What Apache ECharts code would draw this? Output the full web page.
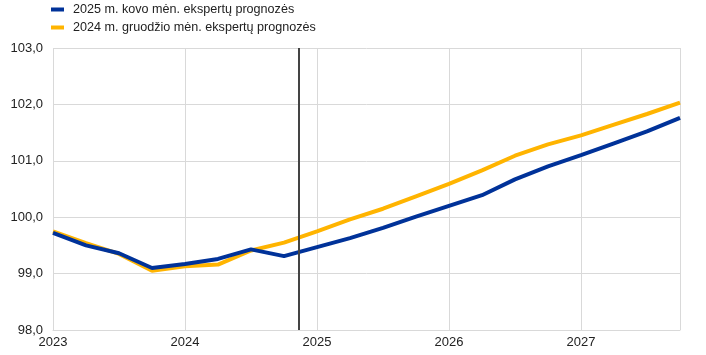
<!DOCTYPE html>
<html><head><meta charset="utf-8">
<script src="https://cdn.jsdelivr.net/npm/echarts@6/dist/echarts.min.js"></script>
<style>html,body{margin:0;padding:0;background:#fff}#c{width:706px;height:355px}</style>
</head><body><div id="c"></div>
<script>
const quarters = [2023,2023.25,2023.5,2023.75,2024,2024.25,2024.5,2024.75,2025,2025.25,2025.5,2025.75,2026,2026.25,2026.5,2026.75,2027,2027.25,2027.5,2027.75];
const march2025 = [99.72,99.50,99.36,99.10,99.17,99.26,99.43,99.31,99.47,99.63,99.81,100.01,100.20,100.39,100.67,100.90,101.10,101.31,101.52,101.76];
const dec2024 = [99.75,99.54,99.35,99.05,99.13,99.16,99.41,99.55,99.75,99.96,100.15,100.37,100.59,100.83,101.09,101.29,101.45,101.64,101.83,102.03];
const seriesNames = ['2025 m. kovo mėn. ekspertų prognozės','2024 m. gruodžio mėn. ekspertų prognozės'];
const projectionStart = 2024.86;
const yTicks = [98,99,100,101,102,103];

const pair = arr => arr.map((v,i)=>[quarters[i], v]);
const chart = echarts.init(document.getElementById('c'));
chart.setOption({
  animation:false,
  textStyle:{fontFamily:'Liberation Sans, Arial, sans-serif'},
  legend:{
    data:seriesNames, orient:'vertical', left:51, top:3, padding:0, itemGap:5,
    itemWidth:13, itemHeight:4, icon:'rect',
    textStyle:{fontSize:12.6, color:'#222', padding:[0,0,0,4]}
  },
  grid:{left:53, right:26, top:48, bottom:25, containLabel:false},
  xAxis:{
    type:'value', min:2023, max:2027.75, interval:1,
    axisLine:{show:true, lineStyle:{color:'#d9d9d9'}},
    axisTick:{show:false},
    splitLine:{show:true, lineStyle:{color:'#d9d9d9', width:1}},
    axisLabel:{color:'#222', fontSize:13, margin:6, formatter:v => (Math.abs(v-Math.round(v))<1e-9 ? String(Math.round(v)) : '')}
  },
  yAxis:{
    type:'value', min:yTicks[0], max:yTicks[yTicks.length-1], interval:1,
    axisLine:{show:false}, axisTick:{show:false},
    splitLine:{show:true, lineStyle:{color:'#d9d9d9', width:1}},
    axisLabel:{color:'#222', fontSize:13, margin:10, formatter:v => v.toFixed(1).replace('.', ',')}
  },
  series:[
    {name:seriesNames[1], type:'line', data:pair(dec2024), showSymbol:false, symbol:'none',
     lineStyle:{color:'#ffb400', width:4}, itemStyle:{color:'#ffb400'}, z:2},
    {name:seriesNames[0], type:'line', data:pair(march2025), showSymbol:false, symbol:'none',
     lineStyle:{color:'#003299', width:4}, itemStyle:{color:'#003299'}, z:3,
     markLine:{silent:true, symbol:['none','none'], label:{show:false},
       lineStyle:{color:'#444', width:2, type:'solid'},
       data:[{xAxis:projectionStart}]}}
  ]
});
</script></body></html>
